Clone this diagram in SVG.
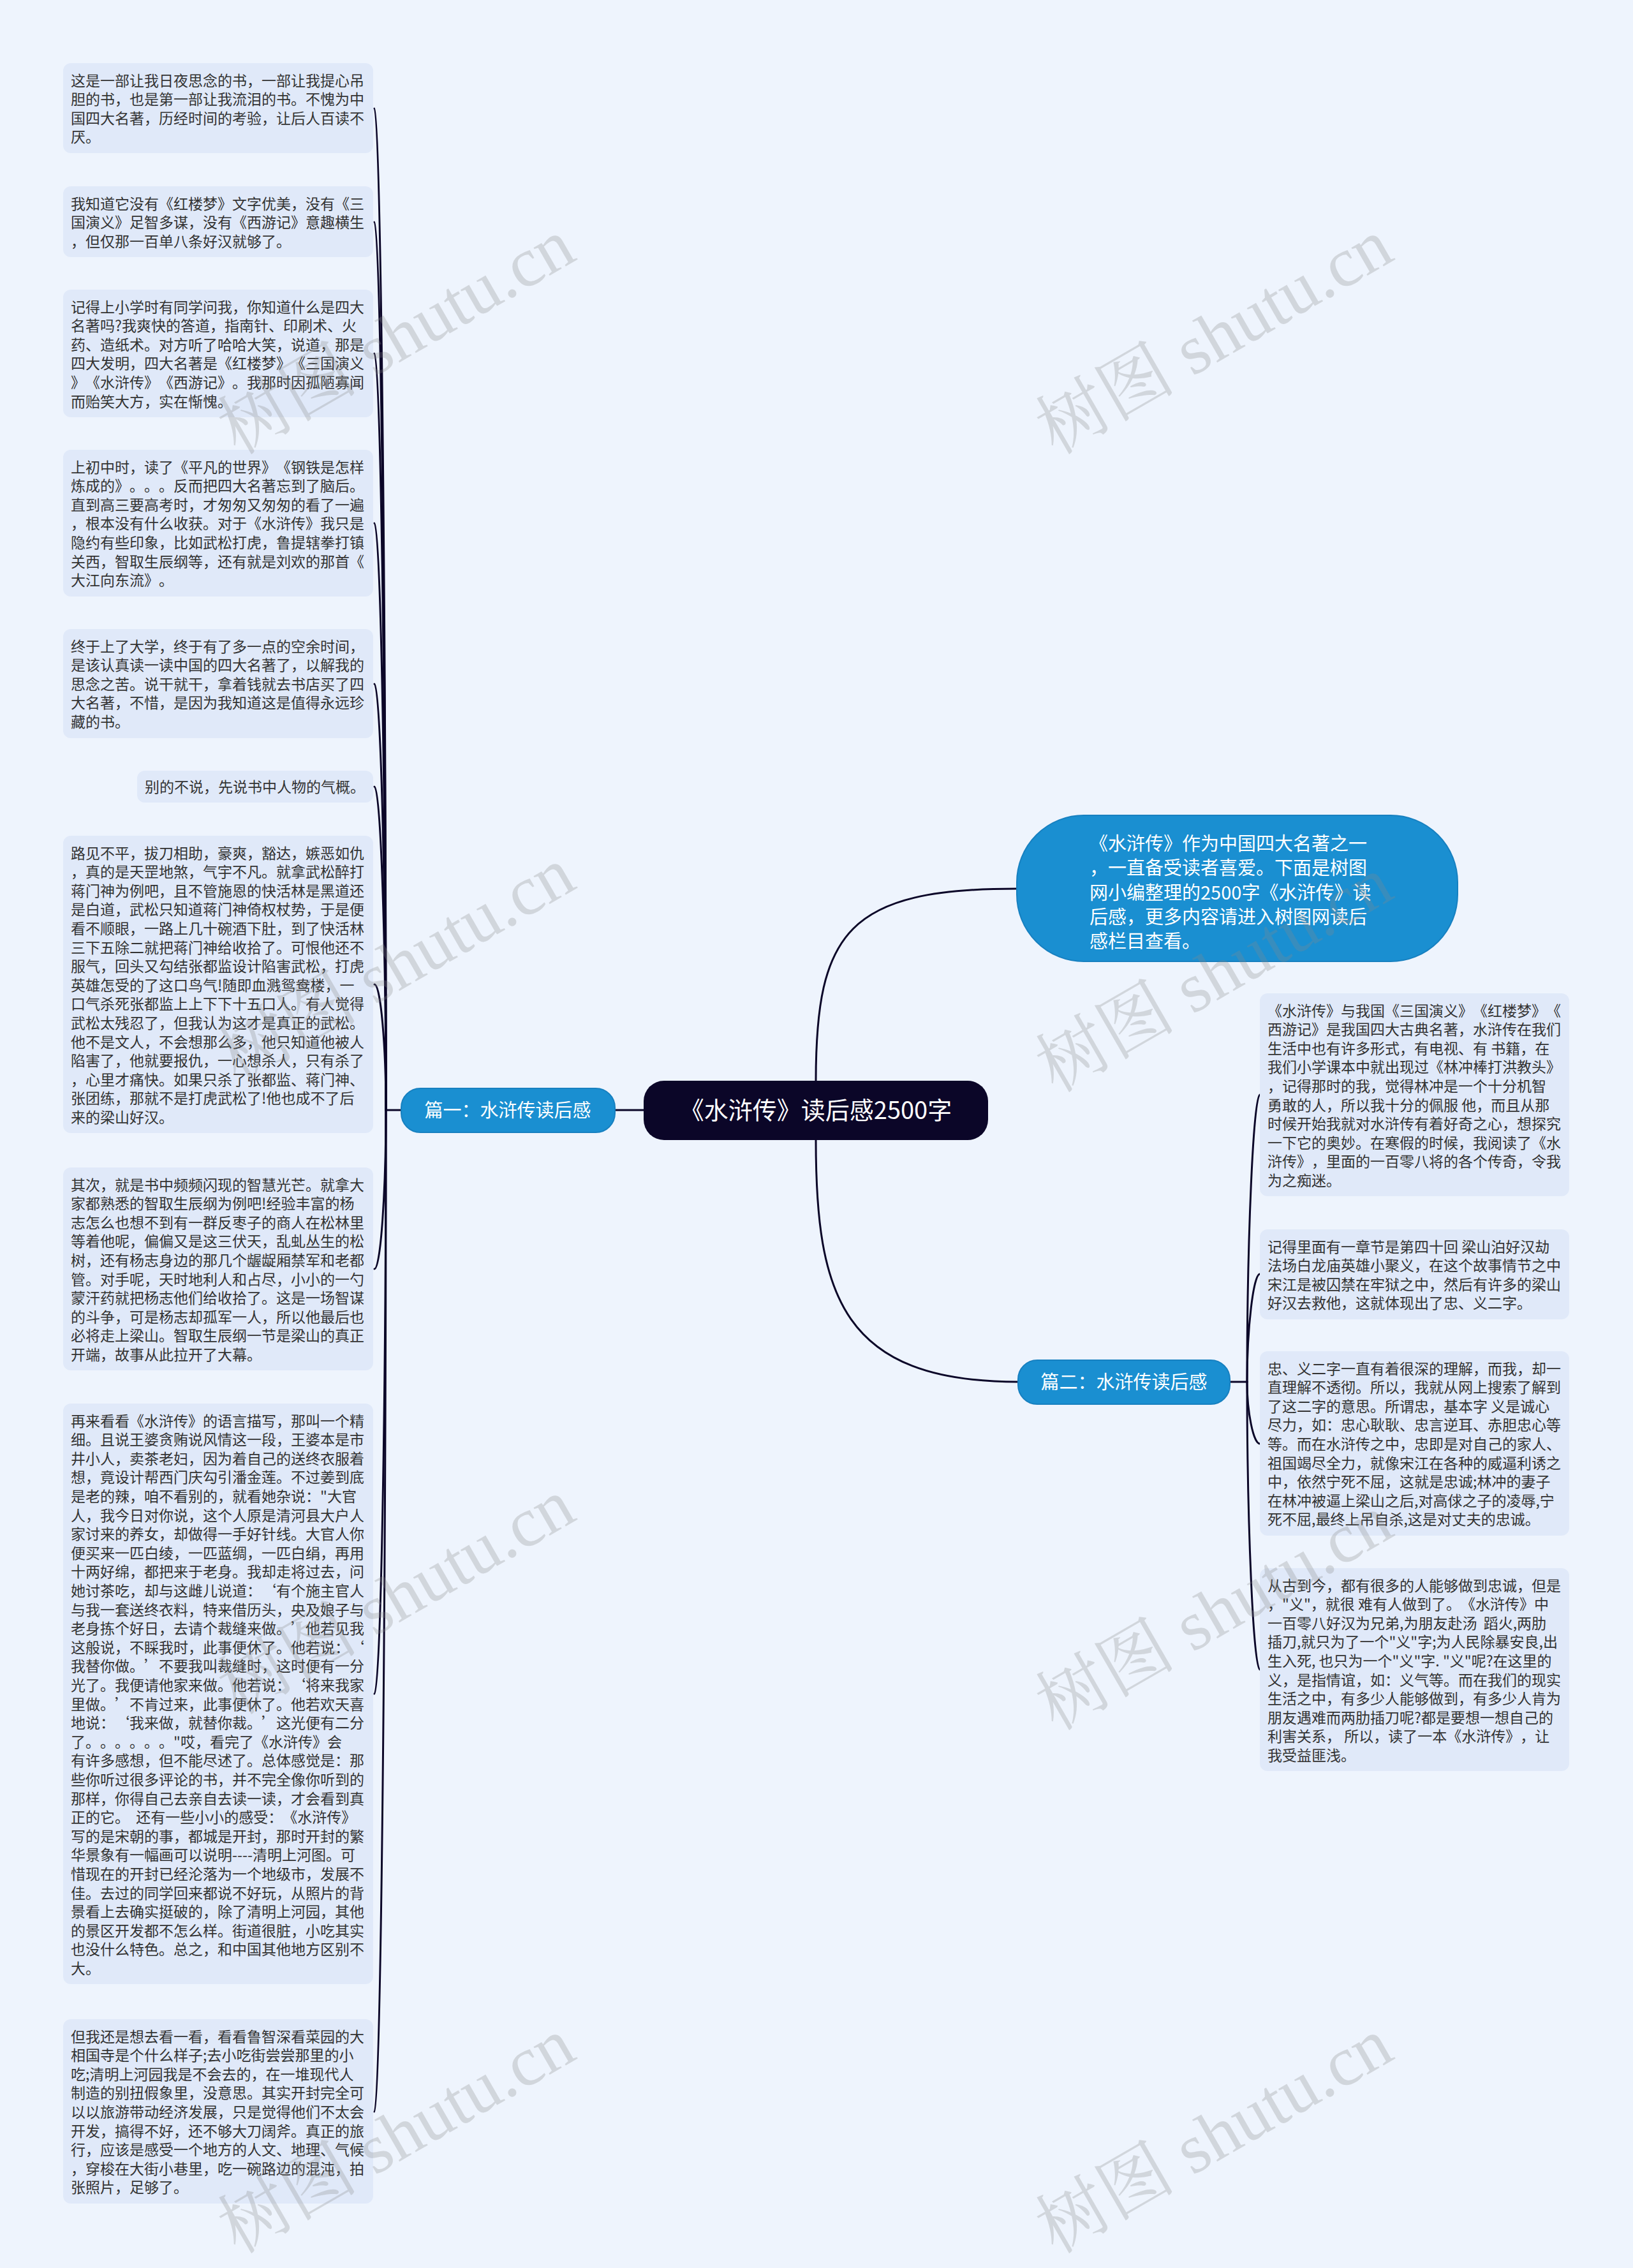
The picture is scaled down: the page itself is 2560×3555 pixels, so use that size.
<svg xmlns="http://www.w3.org/2000/svg" width="2560" height="3555" viewBox="0 0 2560 3555">
<style>
text{text-spacing-trim:space-all}
.bg{fill:#eef4fd}
.box{fill:#e0e9f9}
.t{font-family:"Noto Sans CJK SC","Noto Sans",sans-serif;font-size:23px;fill:#333333}
.c{fill:none;stroke:#0b0628;stroke-width:3;stroke-linecap:round}
.blue{fill:#1a8fd1;stroke:#1780c0;stroke-width:2}
.wt{font-family:"Noto Sans CJK SC","Noto Sans",sans-serif;fill:#ffffff}
.wm{font-family:"Liberation Serif","Noto Serif CJK SC","Noto Sans CJK SC",serif;font-size:110px;fill:#8a8a8a;fill-opacity:0.28}
</style>
<rect class="bg" x="0" y="0" width="2560" height="3555"/>

<g id="connectors">
<path class="c" d="M1009,1740 H964"/>
<path class="c" d="M1279,1694 C1279,1460 1330,1393 1594,1393"/>
<path class="c" d="M1279,1787 C1279,2030 1320,2166 1596,2166"/>
<path class="c" d="M629,1740 H605"/>
<path class="c" d="M605,1740 C605,955 597,170 587,170"/>
<path class="c" d="M605,1740 C605,1044 597,348 587,348"/>
<path class="c" d="M605,1740 C605,1147 597,554 587,554"/>
<path class="c" d="M605,1740 C605,1280 597,820 587,820"/>
<path class="c" d="M605,1740 C605,1406 597,1072 587,1072"/>
<path class="c" d="M605,1740 C605,1486 597,1233 587,1233"/>
<path class="c" d="M605,1740 C605,1641 597,1543 587,1543"/>
<path class="c" d="M605,1740 C605,1864 597,1989 587,1989"/>
<path class="c" d="M605,1740 C605,2197 597,2655 587,2655"/>
<path class="c" d="M605,1740 C605,2525 597,3310 587,3310"/>
<path class="c" d="M1928,2166 H1955"/>
<path class="c" d="M1955,2166 C1955,1941 1965,1716 1975,1716"/>
<path class="c" d="M1955,2166 C1955,2081 1965,1997 1975,1997"/>
<path class="c" d="M1955,2166 C1955,2214 1965,2263 1975,2263"/>
<path class="c" d="M1955,2166 C1955,2391 1965,2617 1975,2617"/>
</g>

<g id="root">
<rect x="1009" y="1694" width="540" height="93" rx="32" fill="#0b0628"/>
<text class="wt" x="1279" y="1754" font-size="38" text-anchor="middle">《水浒传》读后感2500字</text>
</g>

<g id="intro">
<rect class="blue" x="1594" y="1278" width="691" height="229" rx="105"/>
<text class="wt" font-size="29" x="1708" y="1333">
<tspan x="1708">《水浒传》作为中国四大名著之一</tspan>
<tspan x="1708" dy="38.3">，一直备受读者喜爱。下面是树图</tspan>
<tspan x="1708" dy="38.3">网小编整理的2500字《水浒传》读</tspan>
<tspan x="1708" dy="38.3">后感，更多内容请进入树图网读后</tspan>
<tspan x="1708" dy="38.3">感栏目查看。</tspan>
</text>
</g>

<g id="pian1">
<rect class="blue" x="629" y="1706" width="335" height="69" rx="30"/>
<text class="wt" x="796" y="1751" font-size="29" text-anchor="middle">篇一：水浒传读后感</text>
</g>

<g id="pian2">
<rect class="blue" x="1596" y="2132" width="332" height="69" rx="30"/>
<text class="wt" x="1762" y="2177" font-size="29" text-anchor="middle">篇二：水浒传读后感</text>
</g>

<g id="l1">
<rect class="box" x="99" y="99" width="486" height="141" rx="12"/>
<text class="t" y="134.5">
<tspan x="111">这是一部让我日夜思念的书，一部让我提心吊</tspan>
<tspan x="111" dy="29.6">胆的书，也是第一部让我流泪的书。不愧为中</tspan>
<tspan x="111" dy="29.6">国四大名著，历经时间的考验，让后人百读不</tspan>
<tspan x="111" dy="29.6">厌。</tspan>
</text>
</g>

<g id="l2">
<rect class="box" x="99" y="292" width="486" height="111" rx="12"/>
<text class="t" y="327.5">
<tspan x="111">我知道它没有《红楼梦》文字优美，没有《三</tspan>
<tspan x="111" dy="29.6">国演义》足智多谋，没有《西游记》意趣横生</tspan>
<tspan x="111" dy="29.6">，但仅那一百单八条好汉就够了。</tspan>
</text>
</g>

<g id="l3">
<rect class="box" x="99" y="454" width="486" height="200" rx="12"/>
<text class="t" y="489.5">
<tspan x="111">记得上小学时有同学问我，你知道什么是四大</tspan>
<tspan x="111" dy="29.6">名著吗?我爽快的答道，指南针、印刷术、火</tspan>
<tspan x="111" dy="29.6">药、造纸术。对方听了哈哈大笑，说道，那是</tspan>
<tspan x="111" dy="29.6">四大发明，四大名著是《红楼梦》《三国演义</tspan>
<tspan x="111" dy="29.6">》《水浒传》《西游记》。我那时因孤陋寡闻</tspan>
<tspan x="111" dy="29.6">而贻笑大方，实在惭愧。</tspan>
</text>
</g>

<g id="l4">
<rect class="box" x="99" y="705" width="486" height="230" rx="12"/>
<text class="t" y="740.5">
<tspan x="111">上初中时，读了《平凡的世界》《钢铁是怎样</tspan>
<tspan x="111" dy="29.6">炼成的》。。。反而把四大名著忘到了脑后。</tspan>
<tspan x="111" dy="29.6">直到高三要高考时，才匆匆又匆匆的看了一遍</tspan>
<tspan x="111" dy="29.6">，根本没有什么收获。对于《水浒传》我只是</tspan>
<tspan x="111" dy="29.6">隐约有些印象，比如武松打虎，鲁提辖拳打镇</tspan>
<tspan x="111" dy="29.6">关西，智取生辰纲等，还有就是刘欢的那首《</tspan>
<tspan x="111" dy="29.6">大江向东流》。</tspan>
</text>
</g>

<g id="l5">
<rect class="box" x="99" y="986" width="486" height="171" rx="12"/>
<text class="t" y="1021.5">
<tspan x="111">终于上了大学，终于有了多一点的空余时间，</tspan>
<tspan x="111" dy="29.6">是该认真读一读中国的四大名著了，以解我的</tspan>
<tspan x="111" dy="29.6">思念之苦。说干就干，拿着钱就去书店买了四</tspan>
<tspan x="111" dy="29.6">大名著，不惜，是因为我知道这是值得永远珍</tspan>
<tspan x="111" dy="29.6">藏的书。</tspan>
</text>
</g>

<g id="l6">
<rect class="box" x="215" y="1208" width="370" height="50" rx="12"/>
<text class="t" x="227" y="1242">别的不说，先说书中人物的气概。</text>
</g>

<g id="l7">
<rect class="box" x="99" y="1310" width="486" height="466" rx="12"/>
<text class="t" y="1345.5">
<tspan x="111">路见不平，拔刀相助，豪爽，豁达，嫉恶如仇</tspan>
<tspan x="111" dy="29.6">，真的是天罡地煞，气宇不凡。就拿武松醉打</tspan>
<tspan x="111" dy="29.6">蒋门神为例吧，且不管施恩的快活林是黑道还</tspan>
<tspan x="111" dy="29.6">是白道，武松只知道蒋门神倚权杖势，于是便</tspan>
<tspan x="111" dy="29.6">看不顺眼，一路上几十碗酒下肚，到了快活林</tspan>
<tspan x="111" dy="29.6">三下五除二就把蒋门神给收拾了。可恨他还不</tspan>
<tspan x="111" dy="29.6">服气，回头又勾结张都监设计陷害武松，打虎</tspan>
<tspan x="111" dy="29.6">英雄怎受的了这口鸟气!随即血溅鸳鸯楼，一</tspan>
<tspan x="111" dy="29.6">口气杀死张都监上上下下十五口人。有人觉得</tspan>
<tspan x="111" dy="29.6">武松太残忍了，但我认为这才是真正的武松。</tspan>
<tspan x="111" dy="29.6">他不是文人，不会想那么多，他只知道他被人</tspan>
<tspan x="111" dy="29.6">陷害了，他就要报仇，一心想杀人，只有杀了</tspan>
<tspan x="111" dy="29.6">，心里才痛快。如果只杀了张都监、蒋门神、</tspan>
<tspan x="111" dy="29.6">张团练，那就不是打虎武松了!他也成不了后</tspan>
<tspan x="111" dy="29.6">来的梁山好汉。</tspan>
</text>
</g>

<g id="l8">
<rect class="box" x="99" y="1830" width="486" height="318" rx="12"/>
<text class="t" y="1865.5">
<tspan x="111">其次，就是书中频频闪现的智慧光芒。就拿大</tspan>
<tspan x="111" dy="29.6">家都熟悉的智取生辰纲为例吧!经验丰富的杨</tspan>
<tspan x="111" dy="29.6">志怎么也想不到有一群反枣子的商人在松林里</tspan>
<tspan x="111" dy="29.6">等着他呢，偏偏又是这三伏天，乱虬丛生的松</tspan>
<tspan x="111" dy="29.6">树，还有杨志身边的那几个龌龊厢禁军和老都</tspan>
<tspan x="111" dy="29.6">管。对手呢，天时地利人和占尽，小小的一勺</tspan>
<tspan x="111" dy="29.6">蒙汗药就把杨志他们给收拾了。这是一场智谋</tspan>
<tspan x="111" dy="29.6">的斗争，可是杨志却孤军一人，所以他最后也</tspan>
<tspan x="111" dy="29.6">必将走上梁山。智取生辰纲一节是梁山的真正</tspan>
<tspan x="111" dy="29.6">开端，故事从此拉开了大幕。</tspan>
</text>
</g>

<g id="l9">
<rect class="box" x="99" y="2200" width="486" height="910" rx="12"/>
<text class="t" y="2235.5" xml:space="preserve"><tspan x="111">再来看看《水浒传》的语言描写，那叫一个精</tspan><tspan x="111" dy="29.6">细。且说王婆贪贿说风情这一段，王婆本是市</tspan><tspan x="111" dy="29.6">井小人，卖茶老妇，因为着自己的送终衣服着</tspan><tspan x="111" dy="29.6">想，竟设计帮西门庆勾引潘金莲。不过姜到底</tspan><tspan x="111" dy="29.6">是老的辣，咱不看别的，就看她杂说："大官</tspan><tspan x="111" dy="29.6">人，我今日对你说，这个人原是清河县大户人</tspan><tspan x="111" dy="29.6">家讨来的养女，却做得一手好针线。大官人你</tspan><tspan x="111" dy="29.6">便买来一匹白绫，一匹蓝绸，一匹白绢，再用</tspan><tspan x="111" dy="29.6">十两好绵，都把来于老身。我却走将过去，问</tspan><tspan x="111" dy="29.6">她讨茶吃，却与这雌儿说道：‘有个施主官人</tspan><tspan x="111" dy="29.6">与我一套送终衣料，特来借历头，央及娘子与</tspan><tspan x="111" dy="29.6">老身拣个好日，去请个裁缝来做。’他若见我</tspan><tspan x="111" dy="29.6">这般说，不睬我时，此事便休了。他若说：‘</tspan><tspan x="111" dy="29.6">我替你做。’不要我叫裁缝时，这时便有一分</tspan><tspan x="111" dy="29.6">光了。我便请他家来做。他若说：‘将来我家</tspan><tspan x="111" dy="29.6">里做。’不肯过来，此事便休了。他若欢天喜</tspan><tspan x="111" dy="29.6">地说：‘我来做，就替你裁。’这光便有二分</tspan><tspan x="111" dy="29.6">了。。。。。。"哎，看完了《水浒传》会</tspan><tspan x="111" dy="29.6">有许多感想，但不能尽述了。总体感觉是：那</tspan><tspan x="111" dy="29.6">些你听过很多评论的书，并不完全像你听到的</tspan><tspan x="111" dy="29.6">那样，你得自己去亲自去读一读，才会看到真</tspan><tspan x="111" dy="29.6">正的它。  还有一些小小的感受：《水浒传》</tspan><tspan x="111" dy="29.6">写的是宋朝的事，都城是开封，那时开封的繁</tspan><tspan x="111" dy="29.6">华景象有一幅画可以说明----清明上河图。可</tspan><tspan x="111" dy="29.6">惜现在的开封已经沦落为一个地级市，发展不</tspan><tspan x="111" dy="29.6">佳。去过的同学回来都说不好玩，从照片的背</tspan><tspan x="111" dy="29.6">景看上去确实挺破的，除了清明上河园，其他</tspan><tspan x="111" dy="29.6">的景区开发都不怎么样。街道很脏，小吃其实</tspan><tspan x="111" dy="29.6">也没什么特色。总之，和中国其他地方区别不</tspan><tspan x="111" dy="29.6">大。</tspan></text>
</g>

<g id="l10">
<rect class="box" x="99" y="3165" width="486" height="289" rx="12"/>
<text class="t" y="3200.5">
<tspan x="111">但我还是想去看一看，看看鲁智深看菜园的大</tspan>
<tspan x="111" dy="29.6">相国寺是个什么样子;去小吃街尝尝那里的小</tspan>
<tspan x="111" dy="29.6">吃;清明上河园我是不会去的，在一堆现代人</tspan>
<tspan x="111" dy="29.6">制造的别扭假象里，没意思。其实开封完全可</tspan>
<tspan x="111" dy="29.6">以以旅游带动经济发展，只是觉得他们不太会</tspan>
<tspan x="111" dy="29.6">开发，搞得不好，还不够大刀阔斧。真正的旅</tspan>
<tspan x="111" dy="29.6">行，应该是感受一个地方的人文、地理、气候</tspan>
<tspan x="111" dy="29.6">，穿梭在大街小巷里，吃一碗路边的混沌，拍</tspan>
<tspan x="111" dy="29.6">张照片，足够了。</tspan>
</text>
</g>

<g id="r1">
<rect class="box" x="1975" y="1557" width="485" height="318" rx="12"/>
<text class="t" y="1592.5" xml:space="preserve"><tspan x="1987">《水浒传》与我国《三国演义》《红楼梦》《</tspan><tspan x="1987" dy="29.6">西游记》是我国四大古典名著，水浒传在我们</tspan><tspan x="1987" dy="29.6">生活中也有许多形式，有电视、有 书籍，在</tspan><tspan x="1987" dy="29.6">我们小学课本中就出现过《林冲棒打洪教头》</tspan><tspan x="1987" dy="29.6">，记得那时的我，觉得林冲是一个十分机智</tspan><tspan x="1987" dy="29.6">勇敢的人，所以我十分的佩服 他，而且从那</tspan><tspan x="1987" dy="29.6">时候开始我就对水浒传有着好奇之心，想探究</tspan><tspan x="1987" dy="29.6">一下它的奥妙。在寒假的时候，我阅读了《水</tspan><tspan x="1987" dy="29.6">浒传》，里面的一百零八将的各个传奇，令我</tspan><tspan x="1987" dy="29.6">为之痴迷。</tspan></text>
</g>

<g id="r2">
<rect class="box" x="1975" y="1927" width="485" height="141" rx="12"/>
<text class="t" y="1962.5" xml:space="preserve"><tspan x="1987">记得里面有一章节是第四十回 梁山泊好汉劫</tspan><tspan x="1987" dy="29.6">法场白龙庙英雄小聚义，在这个故事情节之中</tspan><tspan x="1987" dy="29.6">宋江是被囚禁在牢狱之中，然后有许多的梁山</tspan><tspan x="1987" dy="29.6">好汉去救他，这就体现出了忠、义二字。</tspan></text>
</g>

<g id="r3">
<rect class="box" x="1975" y="2118" width="485" height="289" rx="12"/>
<text class="t" y="2153.5" xml:space="preserve"><tspan x="1987">忠、义二字一直有着很深的理解，而我，却一</tspan><tspan x="1987" dy="29.6">直理解不透彻。所以，我就从网上搜索了解到</tspan><tspan x="1987" dy="29.6">了这二字的意思。所谓忠，基本字 义是诚心</tspan><tspan x="1987" dy="29.6">尽力，如：忠心耿耿、忠言逆耳、赤胆忠心等</tspan><tspan x="1987" dy="29.6">等。而在水浒传之中，忠即是对自己的家人、</tspan><tspan x="1987" dy="29.6">祖国竭尽全力，就像宋江在各种的威逼利诱之</tspan><tspan x="1987" dy="29.6">中，依然宁死不屈，这就是忠诚;林冲的妻子</tspan><tspan x="1987" dy="29.6">在林冲被逼上梁山之后,对高俅之子的凌辱,宁</tspan><tspan x="1987" dy="29.6">死不屈,最终上吊自杀,这是对丈夫的忠诚。</tspan></text>
</g>

<g id="r4">
<rect class="box" x="1975" y="2458" width="485" height="318" rx="12"/>
<text class="t" y="2493.5" xml:space="preserve"><tspan x="1987">从古到今，都有很多的人能够做到忠诚，但是</tspan><tspan x="1987" dy="29.6">，"义"，就很 难有人做到了。《水浒传》中</tspan><tspan x="1987" dy="29.6">一百零八好汉为兄弟,为朋友赴汤  蹈火,两肋</tspan><tspan x="1987" dy="29.6">插刀,就只为了一个"义"字;为人民除暴安良,出</tspan><tspan x="1987" dy="29.6">生入死, 也只为一个"义"字. "义"呢?在这里的</tspan><tspan x="1987" dy="29.6">义，是指情谊，如：义气等。而在我们的现实</tspan><tspan x="1987" dy="29.6">生活之中，有多少人能够做到，有多少人肯为</tspan><tspan x="1987" dy="29.6">朋友遇难而两肋插刀呢?都是要想一想自己的</tspan><tspan x="1987" dy="29.6">利害关系， 所以，读了一本《水浒传》，让</tspan><tspan x="1987" dy="29.6">我受益匪浅。</tspan></text>
</g>

<g id="watermarks">
<text class="wm" text-anchor="middle" transform="translate(640,560) rotate(-30)">树图 shutu.cn</text>
<text class="wm" text-anchor="middle" transform="translate(1922,560) rotate(-30)">树图 shutu.cn</text>
<text class="wm" text-anchor="middle" transform="translate(640,1545) rotate(-30)">树图 shutu.cn</text>
<text class="wm" text-anchor="middle" transform="translate(1922,1560) rotate(-30)">树图 shutu.cn</text>
<text class="wm" text-anchor="middle" transform="translate(640,2535) rotate(-30)">树图 shutu.cn</text>
<text class="wm" text-anchor="middle" transform="translate(1922,2560) rotate(-30)">树图 shutu.cn</text>
<text class="wm" text-anchor="middle" transform="translate(640,3380) rotate(-30)">树图 shutu.cn</text>
<text class="wm" text-anchor="middle" transform="translate(1922,3380) rotate(-30)">树图 shutu.cn</text>
</g>
</svg>
